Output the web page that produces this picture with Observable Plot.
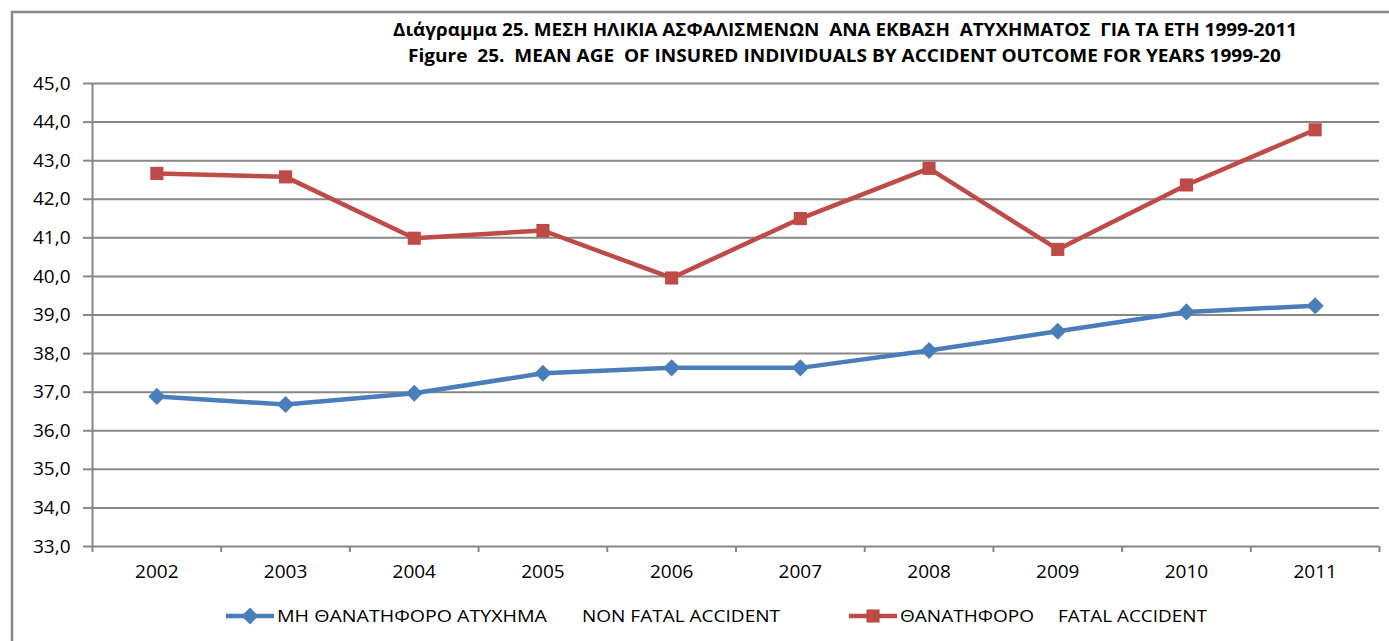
<!DOCTYPE html>
<html><head><meta charset="utf-8">
<script src="https://cdn.jsdelivr.net/npm/d3@7"></script>
<script src="https://cdn.jsdelivr.net/npm/@observablehq/plot@0.6"></script>
<style>
html,body{margin:0;padding:0;background:#fff;}
#chart{position:relative;width:1389px;height:641px;overflow:hidden;}
#chart svg text{fill:#000;}
#chart svg g[aria-label^="y-axis"] line,#chart svg g[aria-label^="y-axis"] path,
#chart svg g[aria-label^="x-axis"] line,#chart svg g[aria-label^="x-axis"] path{stroke-width:2px;stroke:#878787;}
</style></head><body><div id="chart"></div>
<script>
const years = [2002, 2003, 2004, 2005, 2006, 2007, 2008, 2009, 2010, 2011];
const nonFatal = [36.89, 36.68, 36.97, 37.49, 37.63, 37.63, 38.08, 38.58, 39.08, 39.24];
const fatal = [42.67, 42.58, 40.99, 41.19, 39.96, 41.50, 42.80, 40.70, 42.37, 43.80];
const yTicks = [33, 34, 35, 36, 37, 38, 39, 40, 41, 42, 43, 44, 45];
const seriesGreek = ["ΜΗ ΘΑΝΑΤΗΦΟΡΟ ΑΤΥΧΗΜΑ", "ΘΑΝΑΤΗΦΟΡΟ"];
const seriesEnglish = ["NON FATAL ACCIDENT", "FATAL ACCIDENT"];
const seriesColors = ["#4A7EBB", "#BE4B48"];
const seriesSymbols = ["diamond2", "square"];
const titleLines = [
  "Διάγραμμα 25. ΜΕΣΗ ΗΛΙΚΙΑ ΑΣΦΑΛΙΣΜΕΝΩΝ  ΑΝΑ ΕΚΒΑΣΗ  ΑΤΥΧΗΜΑΤΟΣ  ΓΙΑ ΤΑ ΕΤΗ 1999-2011",
  "Figure  25.  MEAN AGE  OF INSURED INDIVIDUALS BY ACCIDENT OUTCOME FOR YEARS 1999-20"
];

const rows = [];
years.forEach((year, i) => {
  rows.push({year, value: nonFatal[i], s: 0});
  rows.push({year, value: fatal[i], s: 1});
});
const boundaries = [...years.map(y => y - 0.5), years[years.length - 1] + 0.5];
const xDomain = [boundaries[0], boundaries[boundaries.length - 1]];
const grid = "#878787";

const W = 1389, H = 641;
const plot = Plot.plot({
  width: W, height: H,
  marginLeft: 92, marginRight: 10, marginTop: 83, marginBottom: H - 546,
  style: {fontFamily: "'Open Sans', sans-serif", fontSize: "19px", color: grid, background: "transparent", overflow: "visible"},
  x: {domain: xDomain, ticks: boundaries, tickSize: 6, tickFormat: () => "", label: null},
  y: {domain: [yTicks[0], yTicks[yTicks.length - 1]], ticks: yTicks, tickSize: 9, tickPadding: 13,
      tickFormat: d => d.toFixed(1).replace(".", ","), label: null},
  marks: [
    Plot.ruleY(yTicks, {stroke: grid, strokeWidth: 2}),
    Plot.ruleX([xDomain[0]], {stroke: grid, strokeWidth: 2}),
    Plot.text(years, {x: d => d, frameAnchor: "bottom", dy: 31, text: d => String(d), fill: "#000", fontSize: 19}),
    ...[0, 1].map(s => Plot.line(rows.filter(r => r.s === s), {x: "year", y: "value", stroke: seriesColors[s], strokeWidth: 4.5})),
    ...[0, 1].map(s => Plot.dot(rows.filter(r => r.s === s), {x: "year", y: "value", symbol: seriesSymbols[s], r: s === 0 ? 7.7 : 7.4, fill: seriesColors[s], stroke: "none"}))
  ]
});
document.getElementById("chart").appendChild(plot);

const svg = d3.select(plot);
// outer frame
svg.append("path").attr("d", "M12,660V12H1400")
  .attr("fill", "none").attr("stroke", grid).attr("stroke-width", 2.5);
// title
const tl = [{x: 393, y: 35.5, len: 904}, {x: 408, y: 62, len: 873}];
titleLines.forEach((t, i) => {
  svg.append("text").attr("x", tl[i].x).attr("y", tl[i].y).attr("text-anchor", "start")
    .attr("textLength", tl[i].len).attr("lengthAdjust", "spacingAndGlyphs")
    .style("font-family", "'Open Sans', sans-serif").style("font-weight", "bold").style("font-size", "17px")
    .style("text-anchor", "start").style("fill", "#000").text(t);
});
// legend
const leg = [
  {x1: 226, x2: 274, gx: 277, gl: 270, ex: 582, el: 198},
  {x1: 849, x2: 897, gx: 900, gl: 134, ex: 1058, el: 149}
];
const ly = 616, lb = 622;
const symMap = {diamond2: d3.symbolDiamond2, square: d3.symbolSquare};
leg.forEach((L, s) => {
  svg.append("line").attr("x1", L.x1).attr("x2", L.x2).attr("y1", ly).attr("y2", ly)
    .attr("stroke", seriesColors[s]).attr("stroke-width", 4.5);
  svg.append("path").attr("d", d3.symbol(symMap[seriesSymbols[s]], s === 0 ? 186 : 172)())
    .attr("transform", `translate(${(L.x1 + L.x2) / 2},${ly})`).attr("fill", seriesColors[s]);
  [[L.gx, L.gl, seriesGreek[s]], [L.ex, L.el, seriesEnglish[s]]].forEach(([x, len, t]) => {
    svg.append("text").attr("x", x).attr("y", lb).attr("text-anchor", "start")
      .attr("textLength", len).attr("lengthAdjust", "spacingAndGlyphs")
      .style("font-family", "'Open Sans', sans-serif").style("font-size", "17px")
      .style("text-anchor", "start").style("fill", "#000").text(t);
  });
});
</script></body></html>
